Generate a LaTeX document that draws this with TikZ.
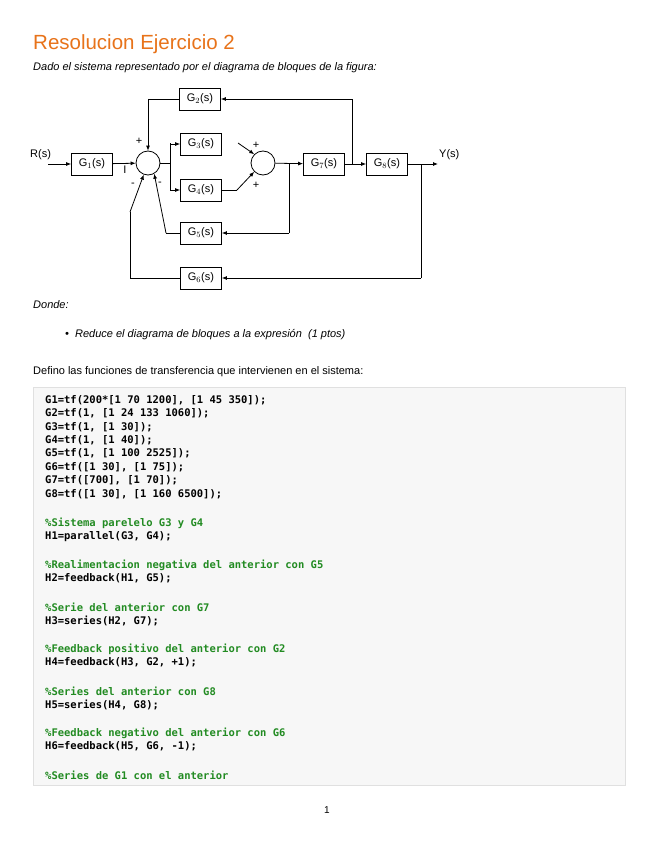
\documentclass[tikz,border=0pt]{standalone}
\usepackage{fontspec}
\setmainfont{Liberation Sans}
\newfontfamily\codefont{DejaVu Sans Mono}
\usetikzlibrary{arrows.meta}
\definecolor{ttl}{HTML}{E8731A}
\definecolor{cgreen}{HTML}{228B22}
\begin{document}
\begin{tikzpicture}[x=1pt,y=-1pt,
 blk/.style={draw,line width=0.8pt,minimum width=41pt,minimum height=22pt,inner sep=0pt,font=\fontsize{11}{12}\selectfont},
 sm/.style={draw,circle,line width=0.8pt,minimum size=24pt,inner sep=0pt},
 ln/.style={line width=0.8pt},
 ar/.style={ln,-{Latex[length=5pt,width=4pt]}},
 lbl/.style={font=\fontsize{11}{12}\selectfont,inner sep=0pt},
 txt/.style={anchor=west,inner sep=0pt,font=\fontsize{11}{13}\selectfont},
 code/.style={anchor=west,inner sep=0pt,font=\codefont\bfseries\fontsize{10.5}{12}\selectfont},
 cmt/.style={code,text=cgreen}]
\useasboundingbox (0,0) rectangle (655,848);
\fill[white] (0,0) rectangle (655,848);
\node[anchor=west,inner sep=0pt,text=ttl,font=\fontsize{20.5}{24}\selectfont] (title) at (33,44) {Resolucion Ejercicio 2};
\node[txt,font=\itshape\fontsize{11}{13}\selectfont] (sub) at (33,68) {Dado el sistema representado por el diagrama de bloques de la figura:};
% diagram
\node[blk] (g1) at (92,164) {G$_1$(s)};
\node[blk] (g2) at (200,99) {G$_2$(s)};
\node[blk] (g3) at (201,144) {G$_3$(s)};
\node[blk] (g4) at (201,190) {G$_4$(s)};
\node[blk] (g5) at (201,233) {G$_5$(s)};
\node[blk] (g6) at (201,278) {G$_6$(s)};
\node[blk] (g7) at (324,164) {G$_7$(s)};
\node[blk] (g8) at (387,164) {G$_8$(s)};
\node[sm] (s1) at (148,163) {};
\node[sm] (s2) at (263,163) {};
\node[lbl,anchor=west] (r) at (30,155) {R(s)};
\node[lbl,anchor=west] (y) at (439,155) {Y(s)};
\coordinate (rin) at (48,164);
\coordinate (yout) at (438,164);
\draw[ar] (rin) -- (g1);
\draw[ar] (g1) -- (s1);
\coordinate (b1) at (170,163);
\draw[ln] (s1) -- (b1);
\draw[ln] (170,143) -- (170,190);
\draw[ar] (170,144) -- (g3);
\draw[ar] (170,190) -- (g4);
\draw[ln] (g4) -- (237,190);
\draw[ar] (237,190) -- (s2.225);
\coordinate (d2) at (238,143);
\draw[ar] (d2) -- (s2.135);
\draw[ar] (s2) -- (g7);
\draw[ar] (g7) -- (g8);
\draw[ar] (g8) -- (yout);
\draw[ln] (289,163) -- (289,233);
\draw[ar] (289,233) -- (g5);
\draw[ln] (g5) -- (166,233);
\draw[ar] (166,233) -- (s1.300);
\draw[ln] (352,164) -- (352,99);
\draw[ar] (352,99) -- (g2);
\draw[ln] (g2) -- (148,99);
\draw[ar] (148,99) -- (s1);
\draw[ln] (421,164) -- (421,278);
\draw[ar] (421,278) -- (g6);
\draw[ln] (g6) -- (130,278) -- (130,212);
\draw[ar] (130,212) -- (s1.250);
\node[lbl] (p1) at (139,141) {+};
\node[lbl] (p2) at (125,170) {I};
\node[lbl] (m1) at (133,185) {-};
\node[lbl] (m2) at (160,184) {-};
\node[lbl] (p3) at (256,145) {+};
\node[lbl] (p4) at (256,185) {+};
% text
\node[txt,font=\itshape\fontsize{11}{13}\selectfont] (donde) at (33,305) {Donde:};
\node[txt,font=\itshape\fontsize{11}{13}\selectfont] (bul) at (65,335) {\textbullet\ \ Reduce el diagrama de bloques a la expresión\ \ (1 ptos)};
\node[txt] (def) at (33,372) {Defino las funciones de transferencia que intervienen en el sistema:};
\draw[fill=black!3,draw=black!12] (33,387) rectangle (625,785);
\node[code] (c1) at (45,400) {G1=tf(200*[1 70 1200], [1 45 350]);};
\node[code] (c2) at (45,413.4) {G2=tf(1, [1 24 133 1060]);};
\node[code] (c3) at (45,426.8) {G3=tf(1, [1 30]);};
\node[code] (c4) at (45,440.2) {G4=tf(1, [1 40]);};
\node[code] (c5) at (45,453.6) {G5=tf(1, [1 100 2525]);};
\node[code] (c6) at (45,467) {G6=tf([1 30], [1 75]);};
\node[code] (c7) at (45,480.4) {G7=tf([700], [1 70]);};
\node[code] (c8) at (45,493.8) {G8=tf([1 30], [1 160 6500]);};
\node[cmt] (k1) at (45,523) {\%Sistema parelelo G3 y G4};
\node[code] (h1) at (45,536.5) {H1=parallel(G3, G4);};
\node[cmt] (k2) at (45,565) {\%Realimentacion negativa del anterior con G5};
\node[code] (h2) at (45,578.5) {H2=feedback(H1, G5);};
\node[cmt] (k3) at (45,607) {\%Serie del anterior con G7};
\node[code] (h3) at (45,620.5) {H3=series(H2, G7);};
\node[cmt] (k4) at (45,649) {\%Feedback positivo del anterior con G2};
\node[code] (h4) at (45,662.5) {H4=feedback(H3, G2, +1);};
\node[cmt] (k5) at (45,691) {\%Series del anterior con G8};
\node[code] (h5) at (45,704.5) {H5=series(H4, G8);};
\node[cmt] (k6) at (45,733) {\%Feedback negativo del anterior con G6};
\node[code] (h6) at (45,746.5) {H6=feedback(H5, G6, -1);};
\node[cmt] (k7) at (45,775) {\%Series de G1 con el anterior};
\node[inner sep=0pt,font=\fontsize{10}{12}\selectfont] (pg) at (327,810) {1};
\end{tikzpicture}
\end{document}
